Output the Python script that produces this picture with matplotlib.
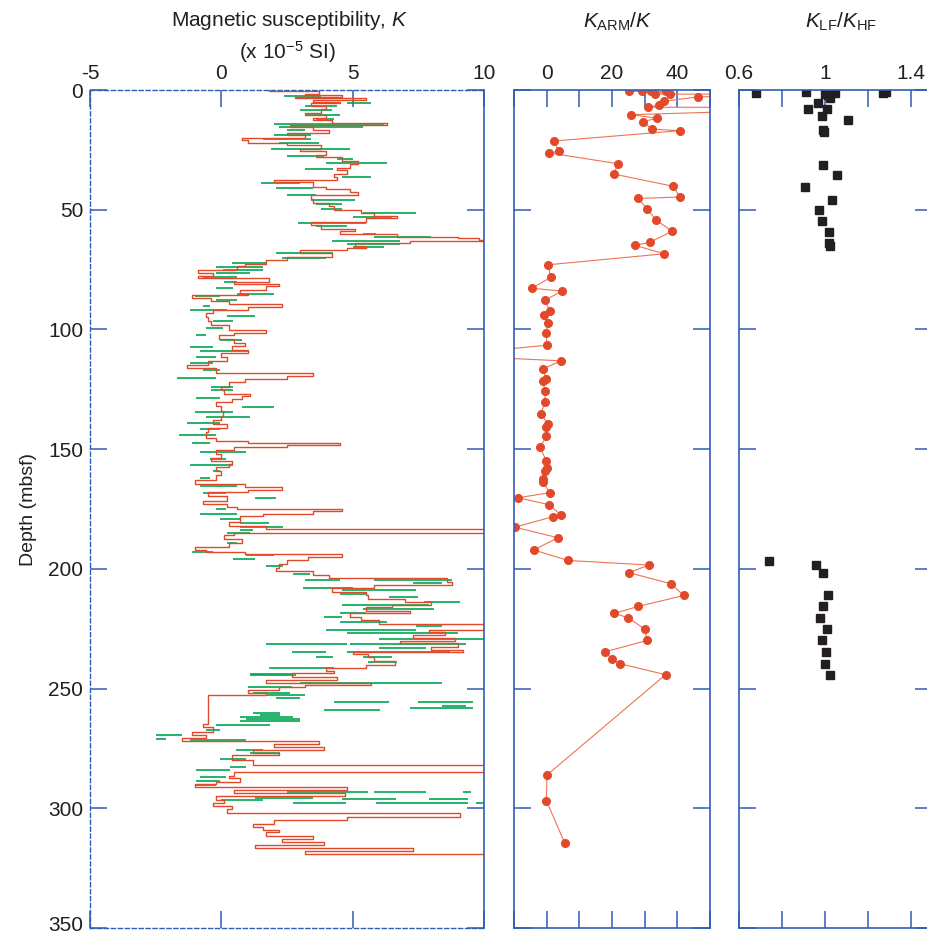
import numpy as np
import matplotlib
matplotlib.use("Agg")
import matplotlib.pyplot as plt
import matplotlib.transforms as mtransforms

plt.rcParams['font.family'] = ['Liberation Sans', 'DejaVu Sans']
plt.rcParams['mathtext.fontset'] = 'custom'
plt.rcParams['mathtext.rm'] = 'Liberation Sans'
plt.rcParams['mathtext.it'] = 'Liberation Sans:italic'

# ---- magnetic susceptibility K, red trace (depth, value) ----
red_depth = [0.0, 0.6, 1.5, 2.0, 2.8, 3.2, 4.2, 5.0, 5.6, 6.5, 8.0, 9.5, 10.5, 11.5, 12.5, 13.6,
             14.5, 15.5, 16.7, 18.0, 19.0, 20.2, 21.0, 22.0, 23.0, 24.5, 25.5, 27.0, 27.9, 29.5,
             31.0, 32.5, 33.5, 35.0, 36.5, 37.6, 38.5, 40.4, 41.5, 42.5, 44.0, 45.5, 47.0, 48.5,
             50.1, 51.5, 52.5, 53.5, 55.3, 56.5, 58.0, 59.0, 60.0, 61.2, 61.8, 62.5, 63.0, 64.0,
             65.0, 66.0, 66.9, 68.0, 69.6, 71.0, 72.5, 73.5, 75.0, 76.6, 77.5, 78.7, 80.0, 81.0,
             82.0, 83.6, 85.0, 85.6, 87.0, 88.0, 89.5, 90.5, 92.0, 93.3, 95.0, 96.5, 98.0, 100.3,
             101.5, 102.4, 104.0, 105.5, 107.0, 108.6, 110.0, 111.4, 113.0, 114.9, 116.0, 118.4,
             119.6, 120.5, 122.0, 124.0, 125.5, 127.0, 128.0, 129.0, 130.5, 132.0, 134.0, 136.0,
             138.0, 139.5, 141.0, 143.0, 145.5, 146.5, 147.6, 148.3, 149.0, 150.5, 152.0, 153.5,
             155.0, 156.0, 157.5, 159.0, 161.0, 163.0, 164.6, 166.0, 167.0, 168.0, 169.5, 171.5,
             173.0, 174.2, 175.0, 176.0, 177.0, 178.0, 180.4, 182.0, 183.2, 185.0, 186.0, 187.5,
             189.0, 191.0, 192.0, 193.0, 194.0, 195.0, 196.4, 198.0, 199.5, 201.0, 202.7, 204.0,
             205.4, 206.8, 208.2, 209.5, 211.0, 212.5, 214.0, 215.0, 216.0, 217.5, 218.6, 220.0,
             221.5, 222.9, 225.6, 226.5, 227.7, 229.0, 230.0, 231.0, 232.5, 234.0, 234.6, 235.4,
             237.0, 238.5, 240.0, 241.5, 242.6, 243.7, 245.0, 246.5, 247.6, 248.6, 249.3, 250.5,
             252.0, 252.7, 264.6, 266.0, 268.0, 269.5, 270.6, 271.8, 273.0, 274.3, 275.7, 277.0,
             277.8, 279.9, 282.0, 285.0, 286.5, 287.5, 289.0, 290.0, 291.3, 292.5, 293.8, 295.0,
             296.5, 298.0, 299.0, 300.5, 301.9, 303.6, 305.0, 306.4, 307.8, 309.0, 310.0, 311.5,
             313.0, 314.0, 315.5, 316.4, 318.0, 318.9, 319.5]
red_k = [1.8, 3.7, 3.2, 4.6, 2.8, 5.5, 3.5, 4.5, 3.4, 4.0, 3.8, 3.2, 4.0, 3.5, 4.2, 6.3,
         2.6, 3.5, 4.1, 2.5, 3.2, 0.8, 1.0, 2.5, 3.8, 3.0, 4.0, 3.6, 4.6, 5.2,
         4.9, 4.4, 4.8, 4.3, 4.4, 2.0, 3.5, 4.0, 4.9, 5.2, 3.4, 3.5, 4.1, 4.3,
         5.3, 5.8, 6.7, 5.5, 3.4, 3.8, 5.1, 4.5, 6.7, 9.0, 9.8, 10.5, 7.2, 5.1,
         5.5, 4.8, 3.0, 4.2, 2.5, 1.7, 0.9, 0.6, -0.9, -0.3, -0.9, 1.8, 0.5, 2.2,
         1.7, 0.7, 1.0, -1.1, -0.4, 0.3, 2.3, 1.0, -0.3, -0.6, -0.5, -0.4, 0.3, 1.7,
         0.5, -0.1, 0.5, 0.9, 0.4, 1.0, 0.0, 0.2, -0.5, -1.3, -0.2, 3.5,
         2.5, 0.9, 0.3, 0.0, 0.1, 1.1, 0.8, 0.4, -0.2, 0.0, 0.05, 0.0,
         -0.3, 0.2, -0.5, -0.6, -0.2, 1.0, 4.5, 2.5, 0.5, -0.2, 0.0, -0.4,
         0.4, 0.3, -0.2, 0.0, -0.2, -1.0, 0.9, 2.3, 1.0, -0.5, 0.2, -0.7,
         0.2, 0.6, 4.6, 3.5, 1.6, 0.7, 0.3, 1.7, 10.5, 0.5, 0.1, 0.8,
         0.3, -1.0, -0.6, 0.9, 4.6, 3.3, 2.5, 2.2, 2.1, 3.5, 4.1, 8.6,
         8.8, 5.8, 4.2, 5.5, 5.6, 7.0, 8.0, 6.5, 5.5, 7.2, 4.9, 5.3,
         6.0, 10.5, 7.9, 8.5, 7.3, 8.9, 6.8, 9.0, 8.0, 9.2, 5.0, 5.6,
         5.8, 6.6, 5.5, 4.0, 4.3, 2.7, 4.4, 1.7, 5.7, 3.2, 2.2, 1.0,
         1.7, -0.5, -0.7, -0.3, -1.1, -0.6, -1.5, 3.7, 2.0, 3.9, 1.2, 2.2,
         0.4, 1.2, 10.5, 0.5, 0.3, 0.7, -0.2, -1.0, 4.8, 0.5, 4.7, -0.2,
         0.1, -0.3, 0.4, 0.2, 9.1, 4.8, 2.0, 1.2, 1.6, 2.2, 1.7, 3.5,
         2.3, 3.9, 1.3, 7.3, 3.2, 10.5, 10.5]

# ---- magnetic susceptibility K, green segments (depth, from, to) ----
green_depth = [2.5, 5.3, 6.5, 8.5, 10.4, 12.0, 14.3, 15.6, 16.8, 18.8, 20.5, 22.0, 24.7, 27.6,
               29.0, 30.6, 33.0, 36.2, 38.7, 41.0, 43.9, 45.8, 47.5, 49.5, 51.5, 53.0, 55.7,
               57.0, 60.2, 61.3, 63.0, 64.5, 65.5, 68.0, 70.0, 72.4, 74.0, 75.2, 76.5, 78.0,
               80.0, 82.5, 85.0, 86.0, 87.7, 90.2, 92.0, 94.4, 96.5, 99.6, 102.4, 104.5, 107.2,
               109.0, 111.7, 114.2, 117.0, 120.2, 124.0, 125.5, 128.8, 132.3, 134.4, 136.5,
               139.0, 141.4, 144.1, 147.6, 151.0, 154.0, 156.7, 159.0, 162.0, 165.5, 168.5,
               170.5, 174.8, 176.9, 179.0, 180.8, 182.5, 183.8, 185.2, 189.0, 193.0, 194.3,
               196.0, 198.9, 202.0, 204.5, 204.6, 206.0, 208.0, 209.0, 210.6, 211.7, 213.8,
               215.2, 216.6, 218.4, 220.0, 222.0, 224.0, 225.6, 226.8, 229.1, 231.2, 231.3,
               232.9, 234.7, 234.8, 236.8, 236.9, 238.9, 241.6, 243.9, 244.4, 247.6, 249.5,
               251.8, 252.7, 254.1, 255.5, 255.6, 257.3, 258.0, 259.0, 260.1, 261.1, 261.8,
               262.9, 263.6, 265.3, 267.4, 269.5, 270.9, 271.6, 275.7, 277.1, 279.4, 282.7,
               284.1, 286.9, 288.5, 290.4, 293.1, 293.2, 293.3, 295.9, 296.0, 296.1, 296.6,
               297.6, 297.7, 297.8]
green_lo = [2.4, 4.8, 3.2, 3.0, 3.2, 3.6, 2.0, 2.2, 2.5, 2.0, 1.6, 2.2, 1.9, 2.5,
            4.4, 4.0, 3.2, 4.6, 1.5, 2.1, 2.5, 3.4, 3.6, 3.8, 5.4, 5.0, 2.9,
            3.6, 5.4, 5.8, 4.2, 4.8, 5.0, 2.1, 2.3, 0.4, -0.2, 0.06, -0.2, -0.7,
            0.1, -0.2, 0.6, -1.0, -0.2, -0.7, -1.2, 0.2, -0.3, -0.6, -0.95, -0.06, -1.2,
            -0.8, -0.95, -1.2, -0.7, -1.7, -0.4, -0.4, -0.95, 0.8, -1.0, -0.57,
            -1.3, -0.8, -1.6, -1.1, -0.8, -0.45, -1.2, -0.3, -0.8, -0.8, -0.7,
            1.3, -0.2, -0.8, -0.06, 0.7, 0.7, 0.7, 0.2, 0.2, -1.1, 0.95,
            0.45, 1.7, 2.73, 3.2, 5.8, 7.3, 3.1, 4.6, 4.5, 6.4, 7.7,
            4.6, 5.4, 4.5, 3.9, 4.5, 7.4, 4.0, 4.8, 6.0, 1.7, 4.9,
            6.0, 2.7, 4.8, 3.6, 5.4, 5.6, 1.8, 1.1, 1.1, 3.0, 1.0,
            1.2, 1.7, 2.1, 4.3, 7.5, 8.4, 7.2, 3.9, 1.2, 1.46, 0.7,
            0.95, 0.7, -0.2, -0.57, -2.5, -2.5, -1.2, 0.57, 1.08, -0.06, 0.32,
            -0.95, -0.82, -0.95, -0.95, 2.5, 5.8, 9.2, 1.3, 4.6, 7.9, 0.0,
            2.73, 5.9, 9.7]
green_hi = [3.8, 5.7, 4.4, 4.2, 4.5, 4.3, 6.2, 5.4, 3.2, 3.4, 3.4, 3.7, 4.9, 3.9,
            5.0, 6.3, 4.25, 5.7, 3.0, 3.5, 3.6, 5.1, 4.6, 4.6, 7.4, 6.5, 5.5,
            4.8, 5.9, 8.0, 6.8, 6.8, 6.2, 4.25, 4.0, 1.7, 1.6, 1.6, 1.1, 0.6,
            0.6, 0.45, 2.0, -0.06, 0.6, -0.45, 0.2, 1.3, 0.45, 0.06, -0.57, 0.8, -0.3,
            1.0, -0.2, -0.3, -0.06, -0.2, 0.45, 0.45, -0.06, 2.0, 0.45, 1.1,
            -0.06, -0.06, -0.2, -0.45, 0.95, 0.19, 0.45, -0.06, -0.45, 0.6, 0.19,
            2.1, 0.19, 0.6, 0.7, 1.8, 2.35, 1.2, 1.1, 0.6, -0.3, 2.0,
            1.3, 2.35, 3.36, 4.5, 8.8, 8.4, 5.0, 7.4, 5.5, 7.5, 9.1,
            7.9, 8.1, 5.5, 4.6, 6.3, 8.4, 7.4, 9.0, 10.2, 4.8, 9.3,
            7.8, 4.0, 8.7, 4.25, 6.5, 6.7, 4.3, 2.7, 2.85, 8.4, 2.7,
            2.6, 3.2, 3.0, 6.4, 9.6, 9.3, 9.6, 6.03, 2.22, 2.22, 2.73,
            2.98, 2.98, 1.84, -0.06, -1.5, -2.1, 0.95, 1.59, 2.22, 0.95, 0.95,
            0.32, 0.19, -0.06, -0.2, 5.6, 7.8, 9.5, 3.5, 6.66, 9.4, 1.59,
            4.76, 9.4, 10.0]

# ---- K_ARM / K ----
arm_depth = [0.3, 0.3, 0.5, 0.5, 1.7, 1.7, 1.8, 2.9, 4.7, 6.3, 7.2, 7.3, 10.3, 11.8, 13.2,
             16.3, 17.0, 21.3, 25.6, 26.3, 30.8, 35.1, 40.2, 44.7, 45.3, 49.6, 54.2, 59.0,
             63.6, 64.9, 68.4, 73.0, 78.2, 82.8, 84.0, 87.7, 92.3, 94.1, 97.2, 101.6, 106.6,
             110.8, 113.1, 116.4, 120.6, 121.4, 125.7, 130.2, 135.2, 139.4, 140.9, 144.7,
             149.3, 155.0, 157.8, 159.3, 162.6, 163.6, 168.2, 170.3, 173.2, 177.5, 178.2,
             182.6, 187.0, 192.1, 196.5, 198.4, 201.6, 206.2, 211.1, 215.7, 218.6, 220.4,
             225.1, 229.9, 234.6, 237.8, 239.6, 244.2, 286.1, 296.8, 314.4]
arm_ratio = [29.2, 31.8, 25.2, 36.4, 33.3, 37.9, 80.0, 46.2, 36.0, 34.3, 31.0, 100.0, 25.8, 33.8,
             29.5, 32.2, 40.7, 2.2, 3.7, 0.8, 21.9, 20.5, 38.7, 40.8, 28.0, 30.7, 33.4, 38.4,
             31.6, 27.1, 36.0, 0.4, 1.3, -4.5, 4.8, -0.5, 0.9, -0.8, 0.3, -0.1, 0.1,
             -32.0, 4.4, -1.0, -0.3, -1.2, -0.5, -0.5, -1.7, 0.3, -0.2, -0.1,
             -2.0, -0.1, 0.1, -0.4, -1.2, -1.1, 0.9, -8.7, 0.7, 4.4, 2.0,
             -9.8, 3.5, -4.0, 6.6, 31.3, 25.2, 38.0, 42.0, 28.0, 20.7, 24.9,
             30.0, 30.8, 18.0, 20.0, 22.4, 36.4, 0.1, -0.1, 5.5]

# ---- K_LF / K_HF ----
lfhf_depth = [1.1, 0.8, 1.5, 1.1, 2.1, 3.5, 1.4, 0.8, 5.3, 8.1, 7.8, 10.7, 12.4, 16.6, 17.5,
              31.2, 35.5, 40.7, 45.8, 50.0, 54.6, 59.5, 63.9, 65.3,
              196.6, 198.4, 201.6, 211.1, 215.7, 220.6, 225.0, 229.9, 234.6, 239.6, 244.2]
lfhf_ratio = [0.678, 0.912, 1.0, 1.047, 1.015, 1.023, 1.271, 1.287, 0.967, 0.924, 1.009, 0.985,
              1.110, 0.994, 0.997, 0.991, 1.059, 0.907, 1.036, 0.975, 0.985, 1.019, 1.019, 1.023,
              0.740, 0.957, 0.994, 1.017, 0.991, 0.980, 1.011, 0.989, 1.005, 1.001, 1.023]

depth_ticks = [0, 50, 100, 150, 200, 250, 300, 350]
k_ticks = [-5, 0, 5, 10]
k_labels = ['-5', '0', '5', '10']
arm_ticks = [-10, 0, 10, 20, 30, 40, 50]
arm_labels = ['', '0', '', '20', '', '40', '']
lfhf_ticks = [0.6, 0.8, 1.0, 1.2, 1.4]
lfhf_labels = ['0.6', '', '1', '', '1.4']

BLUE = '#2f5db5'
RED = '#e2492a'
GREEN = '#00a651'
TXT = '#231f20'
W, H = 927, 935

fig = plt.figure(figsize=(W / 100, H / 100), dpi=100)

def px_axes(x0, x1, y0, y1):
    return fig.add_axes([x0 / W, 1 - y1 / H, (x1 - x0) / W, (y1 - y0) / H])

def style(ax, xt, xl, show_ylabels):
    ax.set_ylim(350, 0)
    ax.set_yticks(depth_ticks)
    ax.set_xticks(xt)
    ax.set_xticklabels(xl)
    if not show_ylabels:
        ax.set_yticklabels([])
    ax.tick_params(direction='in', length=12, width=1.1, color=BLUE, labelcolor=TXT,
                   labelsize=15, top=True, bottom=True, left=True, right=True,
                   labeltop=True, labelbottom=False)
    ax.tick_params(axis='x', pad=5)
    ax.tick_params(axis='y', pad=5)
    for s in ax.spines.values():
        s.set_color(BLUE)
        s.set_linewidth(1.2)

# panel 1: magnetic susceptibility
ax1 = px_axes(90, 484, 90, 928)
ax1.hlines(green_depth, green_lo, green_hi, color=GREEN, lw=1.2)
ax1.plot(red_k, red_depth, color=RED, lw=1.0, drawstyle='steps-pre')
ax1.set_xlim(-5, 10)
style(ax1, k_ticks, k_labels, True)
for side in ['top', 'left', 'bottom']:
    ax1.spines[side].set_linestyle((0, (3, 2)))
    ax1.spines[side].set_linewidth(1.0)
ax1.set_ylabel('Depth (mbsf)', fontsize=14, color=TXT, labelpad=8)
# lift the bottom depth label so it stays inside the figure
fig.canvas.draw()
last = ax1.get_yticklabels()[-1]
last.set_transform(last.get_transform() +
                   mtransforms.ScaledTranslation(0, 3 / 72, fig.dpi_scale_trans))

# panel 2: K_ARM / K
ax2 = px_axes(514, 710, 90, 928)
ax2.plot(arm_ratio, arm_depth, color='#ef7352', lw=0.8, marker='o', ms=5.5,
         mfc=RED, mec=RED)
ax2.set_xlim(-10, 50)
style(ax2, arm_ticks, arm_labels, False)

# panel 3: K_LF / K_HF
ax3 = px_axes(739, 932, 90, 928)
ax3.plot(lfhf_ratio, lfhf_depth, ls='none', marker='s', ms=5.8, mfc=TXT, mec=TXT)
ax3.set_xlim(0.6, 1.5)
style(ax3, lfhf_ticks, lfhf_labels, False)

fig.text(290 / W, 1 - 21 / H, 'Magnetic susceptibility, $K$', ha='center', va='center',
         fontsize=15, color=TXT)
fig.text(287 / W, 1 - 52 / H, '(x 10$^{-5}$ SI)', ha='center', va='center',
         fontsize=15, color=TXT)
fig.text(618 / W, 1 - 22 / H, '$K_{\\mathrm{ARM}}/K$', ha='center', va='center',
         fontsize=15, color=TXT)
fig.text(841 / W, 1 - 22 / H, '$K_{\\mathrm{LF}}/K_{\\mathrm{HF}}$', ha='center', va='center',
         fontsize=15, color=TXT)

fig.savefig('out.png', dpi=100)
